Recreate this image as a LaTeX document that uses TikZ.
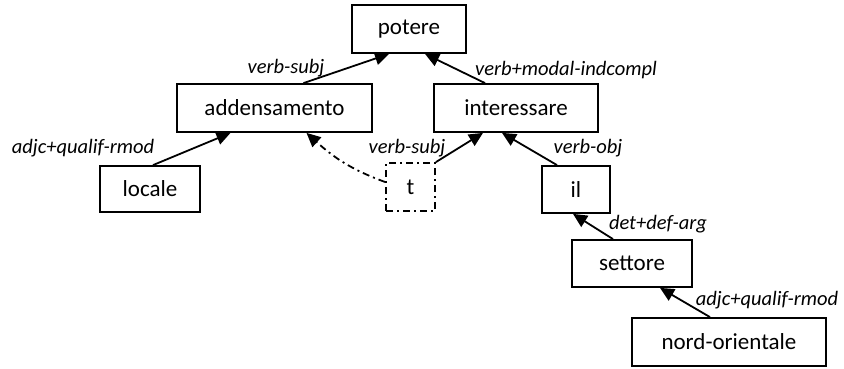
\documentclass[tikz,border=0pt]{standalone}
\usepackage{fontspec}
\setmainfont{Carlito}
\usetikzlibrary{arrows.meta}
\begin{document}
\begin{tikzpicture}[x=1pt,y=-1pt,
  wbox/.style={draw,line width=1.8pt,inner sep=0pt,font=\fontsize{23}{27}\selectfont},
  tbox/.style={wbox,dash pattern=on 7pt off 4pt on 2pt off 4pt},
  lbl/.style={font=\fontsize{20.5}{24}\selectfont\itshape,inner sep=0pt},
  dep/.style={line width=1.8pt,-{Triangle[length=14pt,width=13pt]}},
  ddep/.style={dep,dash pattern=on 7pt off 4pt on 2pt off 4pt}]
\useasboundingbox (0,0) rectangle (844,369);
\node[wbox,minimum width=114pt,minimum height=48pt] (potere) at (409,29) {potere\hspace{8pt}};
\node[wbox,minimum width=195pt,minimum height=48pt] (adden) at (274.5,108) {addensamento\hspace{10pt}};
\node[wbox,minimum width=164pt,minimum height=48pt] (inter) at (516,108) {interessare\hspace{17pt}};
\node[wbox,minimum width=100pt,minimum height=46pt] (locale) at (150,189) {locale\hspace{5pt}};
\node[tbox,minimum width=49pt,minimum height=48pt] (t) at (410.5,187) {t\hspace{8pt}};
\node[wbox,minimum width=68pt,minimum height=47pt] (il) at (576,189.5) {il\hspace{18pt}};
\node[wbox,minimum width=120pt,minimum height=47pt] (settore) at (632,263.5) {settore\hspace{11pt}};
\node[wbox,minimum width=194pt,minimum height=48pt] (nord) at (729,342) {nord-orientale\hspace{15pt}};

\draw[dep] ([xshift=29pt]adden.north) -- ([xshift=-20pt]potere.south);
\draw[dep] ([xshift=-31pt]inter.north) -- ([xshift=16pt]potere.south);
\draw[dep] ([xshift=3pt]locale.north) -- ([xshift=-44pt]adden.south);
\draw[dep] (t.north east) -- ([xshift=-33pt]inter.south);
\draw[dep] ([xshift=-19pt]il.north) -- ([xshift=-14pt]inter.south);
\draw[dep] ([xshift=-19pt]settore.north) -- ([xshift=-3pt]il.south);
\draw[dep] ([xshift=-19pt]nord.north) -- ([xshift=28pt]settore.south);
\draw[ddep] ([yshift=5pt]t.west) to[out=160,in=-42] ([xshift=32pt]adden.south);

\node[lbl] (l1) at (286,68) {verb-subj};
\node[lbl] (l2) at (566,70) {verb+modal-indcompl};
\node[lbl] (l3) at (83,148) {adjc+qualif-rmod};
\node[lbl] (l4) at (407,148) {verb-subj};
\node[lbl] (l5) at (588,148) {verb-obj};
\node[lbl] (l6) at (658,224) {det+def-arg};
\node[lbl] (l7) at (767,300) {adjc+qualif-rmod};
\end{tikzpicture}
\end{document}
